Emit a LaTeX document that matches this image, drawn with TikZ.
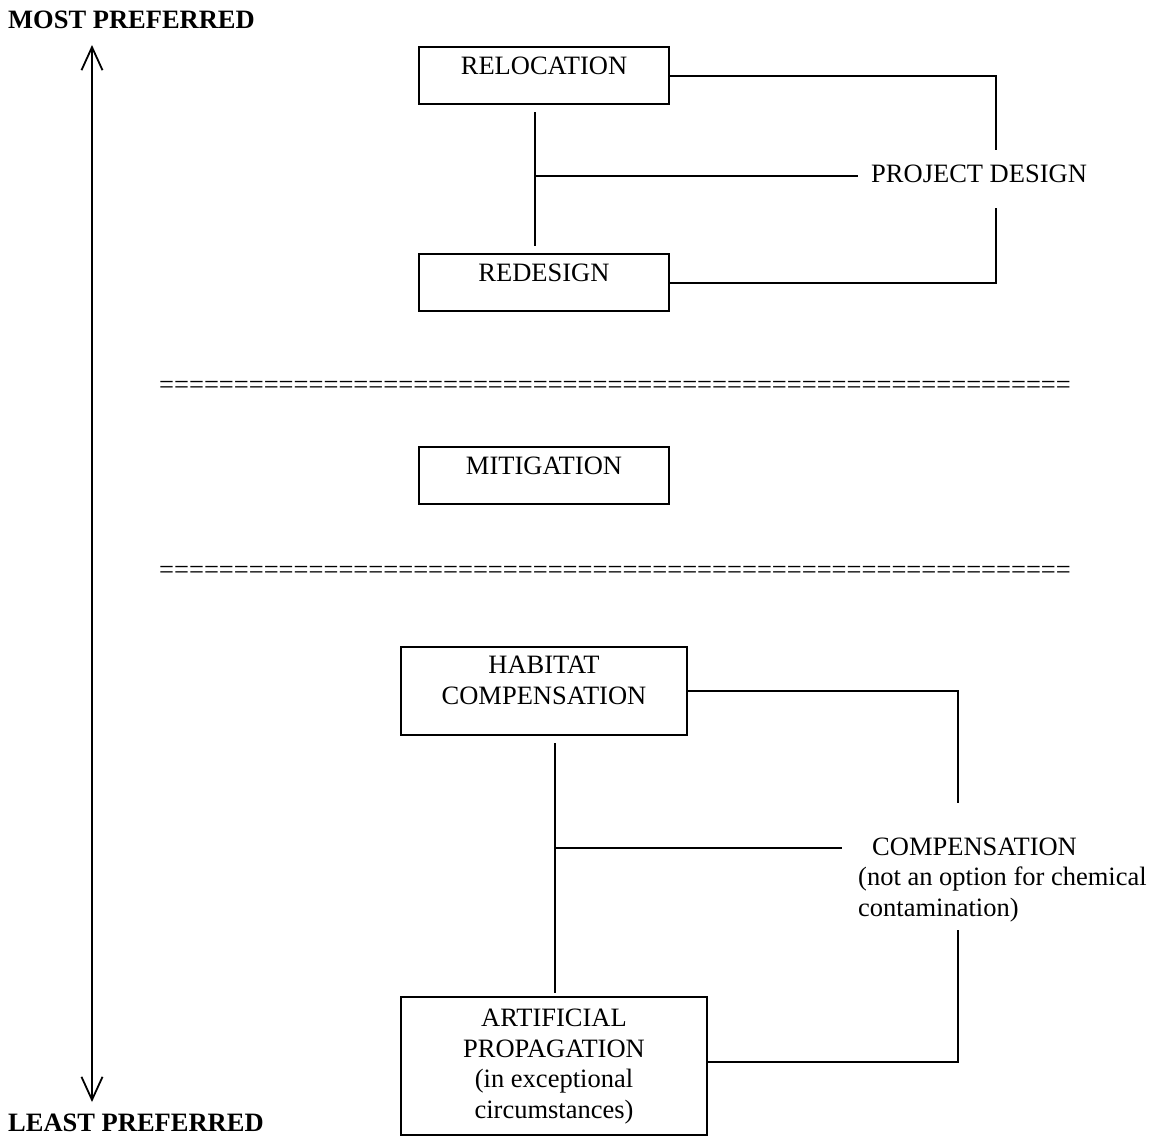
\documentclass[tikz,border=0pt]{standalone}
\usepackage{fontspec}
\setmainfont{Liberation Serif}
\usetikzlibrary{arrows.meta, calc, positioning}

\newcommand{\eqrow}{\foreach \i in {1,...,61}{=}}

\begin{document}
\begin{tikzpicture}[x=1pt, y=-1pt, line cap=butt, line join=miter, >={Straight Barb[length=23pt,width=21pt]},
		every node/.style={font=\fontsize{26.5}{30.5}\selectfont},
		box/.style={draw, line width=2pt, inner xsep=0pt, inner ysep=0pt, align=center, anchor=north, text height=27pt},
		link/.style={-, line width=2pt},
		lbl/.style={inner sep=0pt, anchor=base west, align=left}]
		\useasboundingbox (0,0) rectangle (1165,1136);

		% preference axis
		\node[lbl, font=\fontsize{26.5}{30.5}\selectfont\bfseries] (most) at (8,28) {MOST PREFERRED};
		\node[lbl, font=\fontsize{26.5}{30.5}\selectfont\bfseries] (least) at (8,1131) {LEAST PREFERRED};
		\coordinate (top) at (92,45);
		\coordinate (bot) at (92,1102);
		\draw [<->,line width=1.8pt] (top)--(bot);

		% project design
		\node[box, text depth=30pt, minimum width=250pt] (reloc) at (544,46) {RELOCATION};
		\node[box, text depth=30pt, minimum width=250pt] (redes) at (544,253) {REDESIGN};
		\node[lbl] (pd) at (871,182) {PROJECT DESIGN};
		\coordinate (pdtop) at (996,150);
		\coordinate (pdbot) at (996,208);
		\draw [link] (reloc.east) -| (pdtop);
		\draw [link] (redes.east) -| (pdbot);
		\coordinate (rtop) at (535,112);
		\coordinate (rmid) at (535,176);
		\coordinate (rbot) at (535,246);
		\draw [link] (rtop)--(rbot);
		\draw [link] (rmid)--($(pd.base west)+(-13,-6)$);

		% mitigation
		\node[anchor=base, inner sep=0pt] (eqa) at (615,393) {\eqrow};
		\node[box, text depth=30pt, minimum width=250pt] (mitig) at (544,446) {MITIGATION};
		\node[anchor=base, inner sep=0pt] (eqb) at (615,578) {\eqrow};

		% compensation
		\node[box, text height=57pt, text depth=31pt, minimum width=286pt] (habitat) at (544,646) {HABITAT\\COMPENSATION};
		\node[box, text height=121pt, text depth=17pt, minimum width=306pt] (artif) at (554,996) {ARTIFICIAL\\PROPAGATION\\(in exceptional\\circumstances)};
		\node[lbl] (comp) at (858,916) {\hspace*{14pt}COMPENSATION\\(not an option for chemical\\contamination)};
		\coordinate (ctop) at (958,803);
		\coordinate (cbot) at (958,930);
		\draw [link] (habitat.east) -| (ctop);
		\draw [link] ([yshift=4pt]artif.east) -| (cbot);
		\coordinate (htop) at (555,743);
		\coordinate (hmid) at (555,848);
		\coordinate (hbot) at (555,993);
		\draw [link] (htop)--(hbot);
		\draw [link] (hmid)--($(comp.base west)+(-16,-68)$);
\end{tikzpicture}
\end{document}
